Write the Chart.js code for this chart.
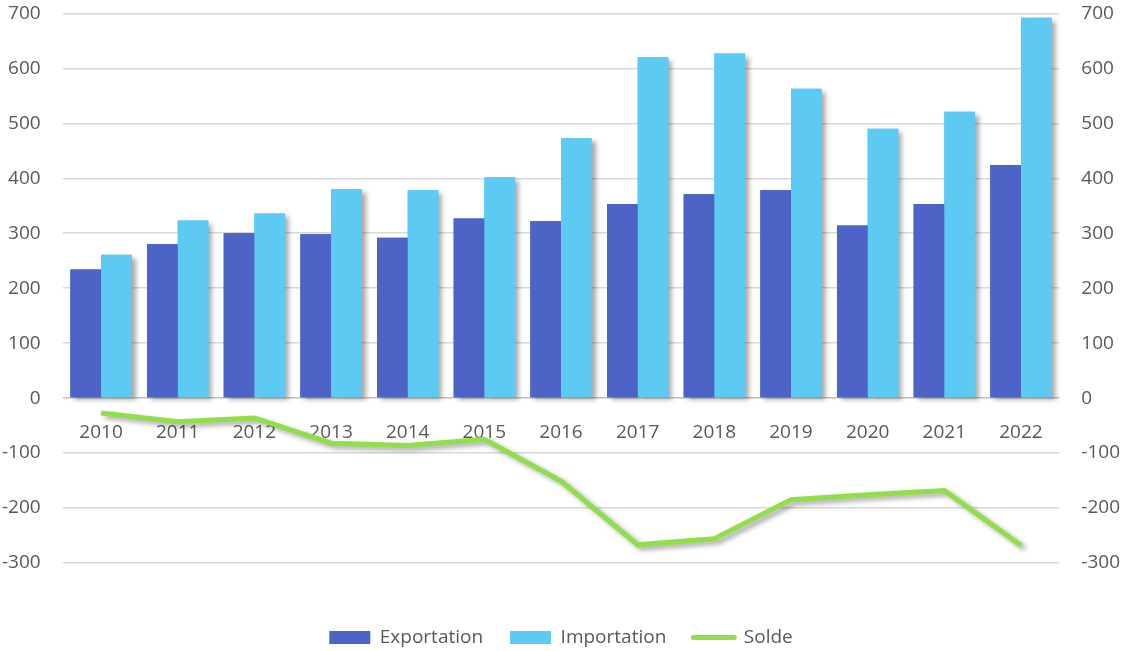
<!DOCTYPE html>
<html lang="fr">
<head>
<meta charset="utf-8">
<title>Exportation / Importation / Solde</title>
<script src="https://cdn.jsdelivr.net/npm/chart.js@4.4.1/dist/chart.umd.min.js"></script>
<style>
  html, body { margin: 0; padding: 0; background: #fff; }
  #chartWrap { width: 1122px; height: 651px; position: relative; }
</style>
</head>
<body>
<div id="chartWrap"><canvas id="tradeChart"></canvas></div>
<script>
const years = ['2010', '2011', '2012', '2013', '2014', '2015', '2016', '2017', '2018', '2019', '2020', '2021', '2022'];
const exportation = [234, 280, 300, 298, 292, 327, 322, 353, 371, 378, 314, 353, 424];
const importation = [261, 323, 336, 380, 378, 402, 473, 620, 627, 563, 490, 521, 692];
const solde = [-27, -43, -36, -82, -86, -75, -151, -267, -256, -185, -176, -168, -268];
const yMin = -300;
const yMax = 700;
const yStep = 100;

const textColor = '#595959';
const gridColor = '#d9d9d9';
const font = { family: "'Open Sans', 'Noto Sans', sans-serif", size: 19 };

const setShadow = (ctx) => {
  ctx.shadowColor = 'rgba(0,0,0,0.35)';
  ctx.shadowBlur = 5;
  ctx.shadowOffsetX = 4;
  ctx.shadowOffsetY = 3;
};

// bar shadows are painted first, so the real bars cover them where they touch
const shadowPlugin = {
  id: 'shadow',
  beforeDatasetsDraw: (chart) => {
    const ctx = chart.ctx;
    ctx.save();
    setShadow(ctx);
    chart.getSortedVisibleDatasetMetas().forEach((meta) => {
      if (meta.type === 'bar') {
        meta.data.forEach((bar) => bar.draw(ctx));
      }
    });
    ctx.restore();
  },
  beforeDatasetDraw: (chart, args) => {
    if (args.meta.type !== 'line') return;
    chart.ctx.save();
    setShadow(chart.ctx);
  },
  afterDatasetDraw: (chart, args) => {
    if (args.meta.type !== 'line') return;
    chart.ctx.restore();
  },
};

// nudge the legend a little lower
const legendShift = {
  id: 'legendShift',
  afterUpdate: (chart) => {
    chart.legend.top += 6;
    chart.legend.bottom += 6;
  },
};

const ctx = document.getElementById('tradeChart').getContext('2d');
new Chart(ctx, {
  type: 'bar',
  data: {
    labels: years,
    datasets: [
      {
        label: 'Exportation',
        data: exportation,
        backgroundColor: '#4c64c6',
        barPercentage: 1,
        categoryPercentage: 0.8,
      },
      {
        label: 'Importation',
        data: importation,
        backgroundColor: '#5ccaf2',
        barPercentage: 1,
        categoryPercentage: 0.8,
      },
      {
        type: 'line',
        label: 'Solde',
        data: solde,
        borderColor: '#92de4a',
        backgroundColor: '#92de4a',
        borderWidth: 5,
        pointRadius: 0,
        tension: 0,
      },
    ],
  },
  options: {
    responsive: true,
    maintainAspectRatio: false,
    animation: false,
    layout: { padding: 0 },
    plugins: {
      tooltip: { enabled: false },
      legend: {
        position: 'bottom',
        title: { display: true, text: '', font: { size: 10 }, padding: { top: 20, bottom: 0 } },
        labels: {
          color: textColor,
          font,
          padding: 27,
          usePointStyle: true,
          pointStyleWidth: 41,
          boxHeight: 13,
          generateLabels: (chart) =>
            chart.data.datasets.map((ds, i) => ({
              text: ds.label,
              fillStyle: ds.backgroundColor,
              strokeStyle: ds.type === 'line' ? ds.borderColor : ds.backgroundColor,
              lineWidth: ds.type === 'line' ? 5 : 0,
              lineCap: 'round',
              pointStyle: ds.type === 'line' ? 'line' : 'rect',
              fontColor: textColor,
              hidden: false,
              datasetIndex: i,
            })),
        },
      },
    },
    scales: {
      x: {
        position: { y: 0 },
        offset: true,
        grid: { display: false, drawTicks: false },
        border: { display: false },
        ticks: { color: textColor, font, padding: 23, maxRotation: 0 },
      },
      y: {
        position: 'left',
        min: yMin,
        max: yMax,
        border: { display: false },
        grid: {
          drawTicks: true,
          tickLength: 20,
          tickColor: 'transparent',
          lineWidth: 1.5,
          color: (c) => (c.tick && c.tick.value === 0 ? '#bfbfbf' : gridColor),
        },
        ticks: { stepSize: yStep, color: textColor, font, padding: 2 },
      },
      y1: {
        position: 'right',
        min: yMin,
        max: yMax,
        border: { display: false },
        grid: { drawOnChartArea: false, drawTicks: true, tickLength: 20, tickColor: 'transparent' },
        ticks: { stepSize: yStep, color: textColor, font, padding: 2 },
      },
    },
  },
  plugins: [shadowPlugin, legendShift],
});
</script>
</body>
</html>
